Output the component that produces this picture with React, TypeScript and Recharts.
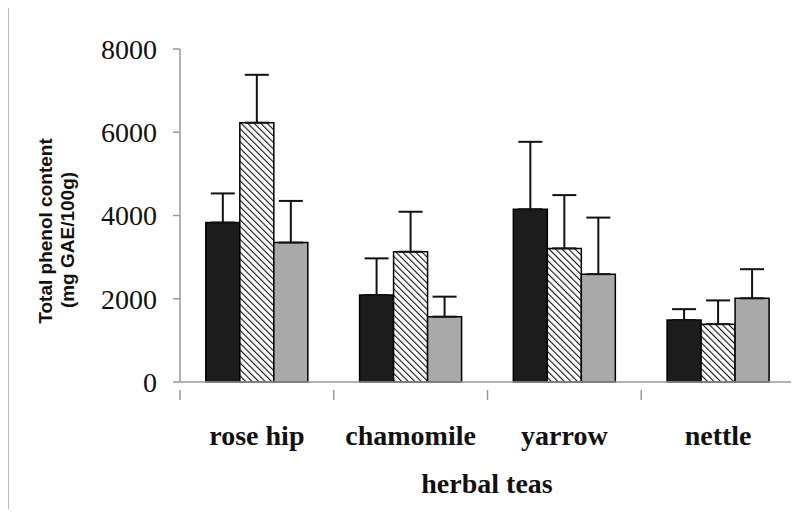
import { BarChart, Bar, XAxis, YAxis, ErrorBar } from 'recharts';

const teas = ['rose hip', 'chamomile', 'yarrow', 'nettle'];
const blackValues = [3830, 2090, 4150, 1490];
const blackErrors = [700, 880, 1620, 260];
const hatchValues = [6230, 3130, 3210, 1390];
const hatchErrors = [1150, 960, 1280, 570];
const greyValues = [3350, 1570, 2590, 2010];
const greyErrors = [1000, 480, 1360, 700];
const yTicks = [0, 2000, 4000, 6000, 8000];

const data = teas.map((tea, i) => ({
    tea,
    black: blackValues[i],
    blackErr: [0, blackErrors[i]],
    hatch: hatchValues[i],
    hatchErr: [0, hatchErrors[i]],
    grey: greyValues[i],
    greyErr: [0, greyErrors[i]],
}));

const W = 799;
const H = 517;
const Y_AXIS_W = 180;
const RIGHT = 4;
const BAND = (W - Y_AXIS_W - RIGHT) / teas.length;

const serif = '"Liberation Serif", "Times New Roman", serif';
const sans = '"Liberation Sans", Arial, sans-serif';

// category label + the boundary tick marks hanging under the axis
const TeaTick = (props: any) => {
    const { x, y, payload, index } = props;
    const left = x - BAND / 2;
    return (
        <g>
            <line x1={left} y1={y} x2={left} y2={y + 10} stroke="#999" strokeWidth={1.5} />
            {index === teas.length - 1 && (
                <line x1={x + BAND / 2} y1={y} x2={x + BAND / 2} y2={y + 10} stroke="#999" strokeWidth={1.5} />
            )}
            <text x={x} y={y + 55} textAnchor="middle" fontFamily={serif} fontWeight="bold" fontSize={28} fill="#111">
                {payload.value}
            </text>
        </g>
    );
};

export default function App() {
    return (
        <div style={{ margin: -8, width: W, height: H, position: 'relative', background: '#fff', overflow: 'hidden' }}>
            <BarChart
                width={W}
                height={H}
                data={data}
                margin={{ top: 49, right: RIGHT, left: 0, bottom: 0 }}
                barCategoryGap="16.8%"
                barGap={0}
            >
                <defs>
                    <pattern id="hatch" patternUnits="userSpaceOnUse" width={4.6} height={4.6} patternTransform="rotate(-45)">
                        <rect width={4.6} height={4.6} fill="#fff" />
                        <line x1={0} y1={0} x2={0} y2={4.6} stroke="#111" strokeWidth={2.2} />
                    </pattern>
                </defs>
                <XAxis
                    dataKey="tea"
                    height={135}
                    tickLine={false}
                    axisLine={{ stroke: '#999', strokeWidth: 1.5 }}
                    tick={<TeaTick />}
                    interval={0}
                    label={{
                        content: () => (
                            <text x={487} y={493} textAnchor="middle" fontFamily={serif} fontWeight="bold" fontSize={28} fill="#111">
                                herbal teas
                            </text>
                        ),
                    }}
                />
                <YAxis
                    width={Y_AXIS_W}
                    domain={[0, 8000]}
                    ticks={yTicks}
                    interval={0}
                    tickSize={7}
                    tickMargin={16}
                    tick={{ fontFamily: serif, fontSize: 28, fill: '#111' }}
                    tickLine={{ stroke: '#999', strokeWidth: 1.5 }}
                    axisLine={{ stroke: '#999', strokeWidth: 1.5 }}
                    label={{
                        content: () => (
                            <g fontFamily={sans} fontWeight="bold" fontSize={19} fill="#111">
                                <text x={52} y={231} textAnchor="middle" transform="rotate(-90 52 231)">
                                    Total phenol content
                                </text>
                                <text x={74} y={240} textAnchor="middle" transform="rotate(-90 74 240)">
                                    (mg GAE/100g)
                                </text>
                            </g>
                        ),
                    }}
                />
                <Bar dataKey="black" fill="#1c1c1c" stroke="#000" strokeWidth={1.5} isAnimationActive={false}>
                    <ErrorBar dataKey="blackErr" direction="y" width={12} stroke="#111" strokeWidth={2} />
                </Bar>
                <Bar dataKey="hatch" fill="url(#hatch)" stroke="#000" strokeWidth={1.5} isAnimationActive={false}>
                    <ErrorBar dataKey="hatchErr" direction="y" width={12} stroke="#111" strokeWidth={2} />
                </Bar>
                <Bar dataKey="grey" fill="#a9a9a9" stroke="#000" strokeWidth={1.5} isAnimationActive={false}>
                    <ErrorBar dataKey="greyErr" direction="y" width={12} stroke="#111" strokeWidth={2} />
                </Bar>
            </BarChart>
            {/* picture frame around the figure */}
            <div
                style={{
                    position: 'absolute',
                    left: 7,
                    top: 4,
                    width: W,
                    height: 510,
                    border: '2px solid #bbb',
                    boxSizing: 'border-box',
                    pointerEvents: 'none',
                    zIndex: 2,
                }}
            />
        </div>
    );
}
